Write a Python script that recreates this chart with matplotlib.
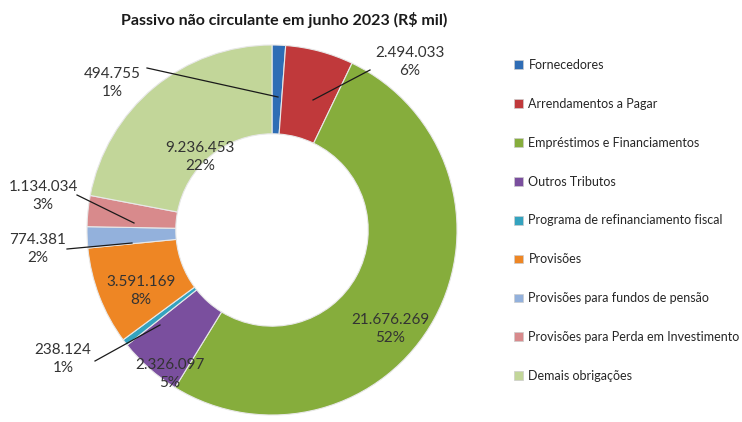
import matplotlib.pyplot as plt
import numpy as np
from matplotlib.patches import Patch

plt.rcParams['font.family'] = ['Lato', 'DejaVu Sans']

# dados (R$ mil)
categorias = ['Fornecedores', 'Arrendamentos a Pagar', 'Empréstimos e Financiamentos',
              'Outros Tributos', 'Programa de refinanciamento fiscal', 'Provisões',
              'Provisões para fundos de pensão', 'Provisões para Perda em Investimento',
              'Demais obrigações']
valores = [494755, 2494033, 21676269, 2326097, 238124, 3591169, 774381, 1134034, 9236453]
rotulos = ['494.755', '2.494.033', '21.676.269', '2.326.097', '238.124',
           '3.591.169', '774.381', '1.134.034', '9.236.453']
# percentuais como aparecem no gráfico original
pct = ['1%', '6%', '52%', '5%', '1%', '8%', '2%', '3%', '22%']
cores = ['#2f6db5', '#c0393b', '#86ad3c', '#7a4f9e', '#34a3bf', '#ee8624',
         '#93b1dc', '#d88a8c', '#c2d699']

W, H = 742, 422
cx, cy, R = 272, 230, 185   # centro e raio em pixels

fig = plt.figure(figsize=(W / 100, H / 100), dpi=100)
ax = fig.add_axes([(cx - R) / W, (H - cy - R) / H, 2 * R / W, 2 * R / H])

wedges, _ = ax.pie(valores, colors=cores, startangle=90, counterclock=False,
                   radius=1, wedgeprops=dict(width=0.48, edgecolor='#e8e8e8', linewidth=0.8))
ax.set_xlim(-1, 1)
ax.set_ylim(-1, 1)
ax.set_aspect('equal')
ax.axis('off')

def px(x, y):
    # pixel (topo) -> coordenadas do eixo
    return ((x - cx) / R, (cy - y) / R)

# rótulos: (índice, posição do texto, ponta da linha junto ao texto, ponta no gomo)
rot = [
    (0, (112, 83), (147, 68), (278, 97)),
    (1, (410, 62), (370, 70), (313, 100)),
    (2, (390, 329), None, None),
    (3, (170, 374), None, None),
    (4, (63, 359), (95, 361), (160, 325)),
    (5, (141, 291), None, None),
    (6, (38, 249), (67, 249), (132, 243)),
    (7, (43, 196), (77, 195), (134, 223)),
    (8, (200, 157), None, None),
]
for i, tpos, a, b in rot:
    ax.text(*px(*tpos), f'{rotulos[i]}\n{pct[i]}', ha='center', va='center',
            fontsize=11, color='#333333', linespacing=1.3, clip_on=False)
    if a is not None:
        (x0, y0), (x1, y1) = px(*a), px(*b)
        ax.plot([x0, x1], [y0, y1], color='#1a1a1a', lw=0.9, clip_on=False)

fig.text(284 / W, 1 - 20 / H, 'Passivo não circulante em junho 2023 (R$ mil)',
         ha='center', va='center', fontsize=11.5, fontweight='bold', color='#1a1a1a')

handles = [Patch(facecolor=c, edgecolor='#cccccc', linewidth=0.5) for c in cores]
fig.legend(handles, categorias, loc='upper left', bbox_to_anchor=(514 / W, 1 - 59 / H),
           frameon=False, fontsize=9, labelspacing=2.15, handlelength=0.7,
           handleheight=0.7, handletextpad=0.45, borderaxespad=0, borderpad=0,
           labelcolor='#262626')

fig.savefig('out.png', dpi=100)
